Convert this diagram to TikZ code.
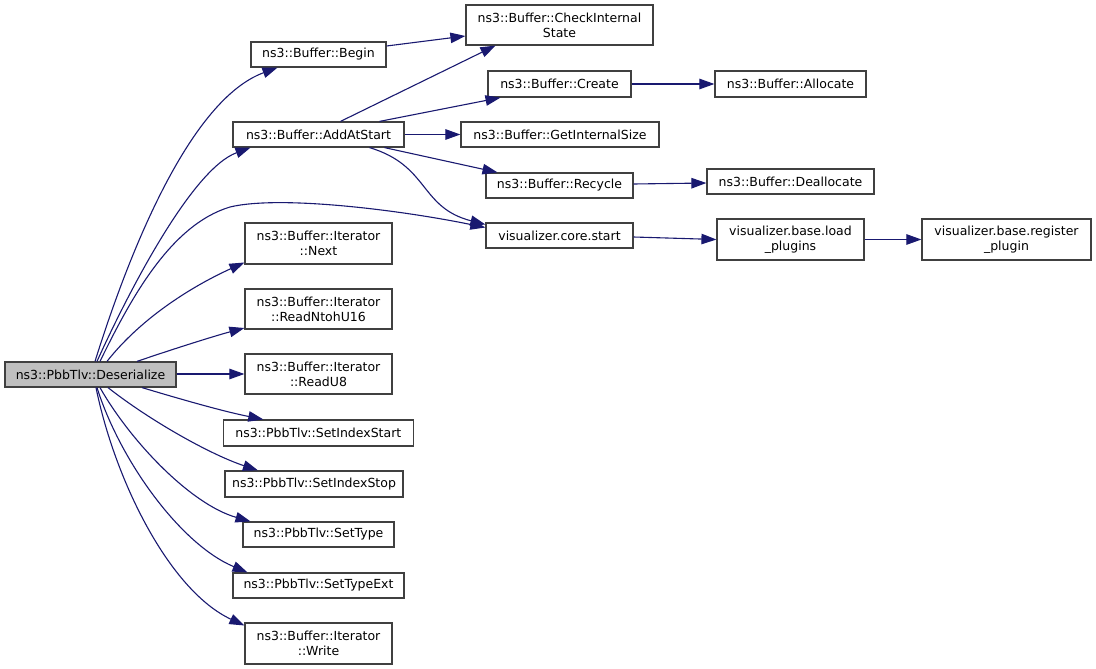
\documentclass[tikz,border=0pt]{standalone}
\usepackage{fontspec}
\setmainfont{DejaVu Sans}
\usetikzlibrary{arrows.meta}
\definecolor{edgec}{HTML}{191970}
\definecolor{boxc}{HTML}{404040}
\tikzset{
  fn/.style={draw=boxc, line width=1.2pt, fill=white, inner sep=0pt, align=center,
    font=\fontsize{12.5}{15}\selectfont},
  edge/.style={draw=edgec, line width=1.1pt, -{Triangle[length=15pt,width=10.5pt]}},
}
\begin{document}
\begin{tikzpicture}[x=1pt,y=-1pt]
\useasboundingbox (0,0) rectangle (1096,669);
% nodes
\node[fn, fill=black!25, minimum width=171pt, minimum height=25pt] (des) at (90.5,374.5) {ns3::PbbTlv::Deserialize};
\node[fn, minimum width=135pt, minimum height=25pt] (begin) at (318.5,54.5) {ns3::Buffer::Begin};
\node[fn, minimum width=171pt, minimum height=25pt] (add) at (318.5,134.5) {ns3::Buffer::AddAtStart};
\node[fn, minimum width=187pt, minimum height=40pt] (check) at (559.5,25) {ns3::Buffer::CheckInternal\\State};
\node[fn, minimum width=143pt, minimum height=26pt] (create) at (559.5,84) {ns3::Buffer::Create};
\node[fn, minimum width=151pt, minimum height=26pt] (alloc) at (790.5,84) {ns3::Buffer::Allocate};
\node[fn, minimum width=198pt, minimum height=25pt] (gis) at (560,134.5) {ns3::Buffer::GetInternalSize};
\node[fn, minimum width=147pt, minimum height=25pt] (recycle) at (559.5,185.5) {ns3::Buffer::Recycle};
\node[fn, minimum width=167pt, minimum height=25pt] (dealloc) at (790.5,181.5) {ns3::Buffer::Deallocate};
\node[fn, minimum width=147pt, minimum height=25pt] (vstart) at (559.5,235.5) {visualizer.core.start};
\node[fn, minimum width=147pt, minimum height=41pt] (load) at (790.5,239.5) {visualizer.base.load\\\_plugins};
\node[fn, minimum width=169pt, minimum height=41pt] (reg) at (1006.5,239.5) {visualizer.base.register\\\_plugin};
\node[fn, minimum width=147pt, minimum height=41pt] (next) at (318.5,243.5) {ns3::Buffer::Iterator\\::Next};
\node[fn, minimum width=147pt, minimum height=40pt] (rn16) at (318.5,309) {ns3::Buffer::Iterator\\::ReadNtohU16};
\node[fn, minimum width=147pt, minimum height=40pt] (ru8) at (318.5,374) {ns3::Buffer::Iterator\\::ReadU8};
\node[fn, minimum width=190pt, minimum height=26pt] (sis) at (318.3,433) {ns3::PbbTlv::SetIndexStart};
\node[fn, minimum width=178pt, minimum height=26pt] (sisp) at (314,484) {ns3::PbbTlv::SetIndexStop};
\node[fn, minimum width=151pt, minimum height=25pt] (stype) at (318.5,534.5) {ns3::PbbTlv::SetType};
\node[fn, minimum width=171pt, minimum height=25pt] (stext) at (318.5,585.5) {ns3::PbbTlv::SetTypeExt};
\node[fn, minimum width=147pt, minimum height=41pt] (write) at (318.5,643.5) {ns3::Buffer::Iterator\\::Write};
% edges from Deserialize
\draw[edge] ([xshift=4.5pt]des.north) .. controls +(35,-112) and +(-87,32) .. ([xshift=-41pt]begin.south);
\draw[edge] ([xshift=6.5pt]des.north) .. controls +(28,-62) and +(-60,22) .. ([xshift=-68pt]add.south);
\draw[edge] ([xshift=9.5pt]des.north) .. controls (130,300) and (170,225) .. (230,207) .. controls (280,195) and (400,210) .. ([yshift=8pt]vstart.west);
\draw[edge] ([xshift=16.5pt]des.north) .. controls +(33,-42) and +(-55,25) .. ([yshift=-19pt]next.west);
\draw[edge] ([xshift=46.5pt]des.north) .. controls +(35,-12) and +(-30,8) .. ([yshift=-19pt]rn16.west);
\draw[edge] (des.east |- ru8.west) -- (ru8.west);
\draw[edge] ([xshift=51.5pt]des.south) .. controls +(40,12) and +(-40,-8) .. ([xshift=-55pt]sis.north);
\draw[edge] ([xshift=17.5pt]des.south) .. controls +(42,33) and +(-48,-16) .. ([xshift=-56pt]sisp.north);
\draw[edge] ([xshift=9.5pt]des.south) .. controls +(30,53) and +(-60,-17) .. ([xshift=-68pt]stype.north);
\draw[edge] ([xshift=6.5pt]des.south) .. controls +(23,73) and +(-67,-28) .. ([xshift=-71pt]stext.north);
\draw[edge] ([xshift=5.5pt]des.south) .. controls +(19,93) and +(-75,-35) .. ([yshift=18pt]write.west);
% other edges
\draw[edge] (begin.east |- 0,46) -- (check.west |- 0,36);
\draw[edge] ([xshift=22pt]add.north) -- ([xshift=-64pt]check.south);
\draw[edge] ([xshift=61pt]add.north) -- ([xshift=-59pt]create.south);
\draw[edge] (add.east) -- (gis.west);
\draw[edge] ([xshift=66pt]add.south) -- ([xshift=-62pt]recycle.north);
\draw[edge] ([xshift=51pt]add.south) .. controls +(60,18) and +(-66,-17) .. ([yshift=11pt]vstart.west);
\draw[edge] (create.east) -- (alloc.west);
\draw[edge] (recycle.east |- 0,184) -- (dealloc.west |- 0,183);
\draw[edge] (vstart.east |- 0,237) -- (load.west);
\draw[edge] (load.east) -- (reg.west);
\end{tikzpicture}
\end{document}
